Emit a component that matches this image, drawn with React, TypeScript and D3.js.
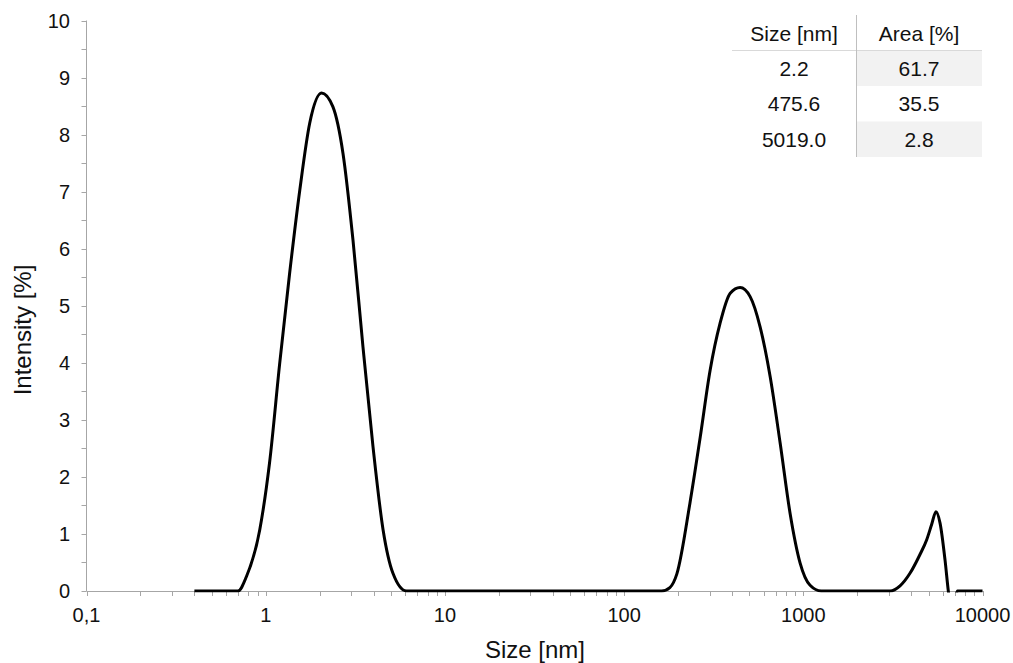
import React, { useEffect, useRef } from 'react';
import * as d3 from 'd3';

// intensity distribution (size in nm, intensity in %)
const sizes = [
  0.4, 0.55, 0.7, 0.78, 0.926, 1.05, 1.197, 1.36, 1.55, 1.76, 2.05, 2.37, 2.7, 3.07, 3.49, 3.97, 4.52, 5.13, 6.1,
  10, 30, 100, 162, 180, 197, 233, 266, 302, 343, 391, 444, 505, 574, 653, 743, 844, 960, 1091, 1259,
  2000, 3048, 3465, 3938, 4478, 4883, 5207, 5500, 5796, 6180, 6445, 6800, 7244, 8500, 10000,
];
const intensities = [
  0, 0, 0, 0.25, 1.07, 2.24, 3.99, 5.57, 7.03, 8.2, 8.73, 8.49, 7.67, 6.15, 4.28, 2.53, 1.07, 0.31, 0,
  0, 0, 0, 0, 0.06, 0.3, 1.54, 2.7, 3.87, 4.69, 5.22, 5.32, 5.16, 4.63, 3.76, 2.59, 1.36, 0.49, 0.1, 0,
  0, 0, 0.09, 0.31, 0.64, 0.9, 1.17, 1.39, 1.19, 0.54, 0, -0.5, 0, 0, 0,
];

const xTickValues = [0.1, 1, 10, 100, 1000, 10000];
const xTickLabels = ['0,1', '1', '10', '100', '1000', '10000'];
const yTickValues = [0, 1, 2, 3, 4, 5, 6, 7, 8, 9, 10];

const tableHeader = ['Size [nm]', 'Area [%]'];
const peakSizes = ['2.2', '475.6', '5019.0'];
const peakAreas = ['61.7', '35.5', '2.8'];

const App = () => {
  const svgRef = useRef<SVGSVGElement>(null);

  useEffect(() => {
    if (!svgRef.current) return;
    const W = 1013;
    const H = 663;
    const left = 86.5, right = 982.5, top = 20.5, bottom = 591;
    const font = 'Liberation Sans, Arial, sans-serif';
    const axisColor = '#a6a6a6';
    const ink = '#111';

    const svg = d3.select(svgRef.current);
    svg.selectAll('*').remove();
    svg.attr('width', W).attr('height', H);

    const x = d3.scaleLog().domain([0.1, 10000]).range([left, right]);
    const y = d3.scaleLinear().domain([0, 10]).range([bottom, top]);

    // y axis
    svg.append('line')
      .attr('x1', left).attr('x2', left).attr('y1', top).attr('y2', bottom)
      .attr('stroke', axisColor).attr('stroke-width', 1);
    const yMinor = d3.range(0, 10.01, 0.5);
    svg.selectAll('.ytick').data(yMinor).enter().append('line')
      .attr('x1', left - 5).attr('x2', left)
      .attr('y1', d => Math.round(y(d)) + 0.5).attr('y2', d => Math.round(y(d)) + 0.5)
      .attr('stroke', axisColor);
    svg.selectAll('.ylab').data(yTickValues).enter().append('text')
      .attr('x', 70).attr('y', d => y(d))
      .attr('dy', '0.35em')
      .attr('text-anchor', 'end')
      .style('font-family', font).style('font-size', '20px').attr('fill', ink)
      .text(d => d);

    // x axis
    svg.append('line')
      .attr('x1', left).attr('x2', right).attr('y1', bottom + 0.5).attr('y2', bottom + 0.5)
      .attr('stroke', axisColor).attr('stroke-width', 1);
    const xMinor: number[] = [];
    [0.1, 1, 10, 100, 1000].forEach(dec => {
      for (let k = 1; k < 10; k++) xMinor.push(dec * k);
    });
    xMinor.push(10000);
    svg.selectAll('.xtick').data(xMinor).enter().append('line')
      .attr('x1', d => Math.round(x(d)) + 0.5).attr('x2', d => Math.round(x(d)) + 0.5)
      .attr('y1', bottom).attr('y2', bottom + 5)
      .attr('stroke', axisColor);
    svg.selectAll('.xlab').data(xTickValues).enter().append('text')
      .attr('x', d => x(d)).attr('y', 622)
      .attr('text-anchor', 'middle')
      .style('font-family', font).style('font-size', '20px').attr('fill', ink)
      .text((d, i) => xTickLabels[i]);

    // axis titles
    svg.append('text')
      .attr('x', 535).attr('y', 658)
      .attr('text-anchor', 'middle')
      .style('font-family', font).style('font-size', '24px').attr('fill', ink)
      .text('Size [nm]');
    svg.append('text')
      .attr('transform', 'translate(31,330) rotate(-90)')
      .attr('text-anchor', 'middle')
      .style('font-family', font).style('font-size', '24px').attr('fill', ink)
      .text('Intensity [%]');

    // curve, clipped at the x axis like the spreadsheet plot
    svg.append('clipPath').attr('id', 'plotClip')
      .append('rect').attr('x', left).attr('y', 0).attr('width', right - left + 2).attr('height', bottom + 1.5);

    const pts = sizes.map((s, i) => [s, intensities[i]] as [number, number]);
    const line = d3.line<[number, number]>()
      .x(d => x(d[0]))
      .y(d => y(d[1]))
      .curve(d3.curveMonotoneX);
    svg.append('path')
      .attr('d', line(pts))
      .attr('clip-path', 'url(#plotClip)')
      .attr('fill', 'none')
      .attr('stroke', '#000')
      .attr('stroke-width', 3)
      .attr('stroke-linejoin', 'round');

    // results table
    const colSplit = 856.5;
    const tLeft = 732, tRight = 982;
    const headerY = 50.5;
    const rowH = 35.5;
    const tbl = svg.append('g');
    peakAreas.forEach((a, i) => {
      if (i % 2 === 0) {
        tbl.append('rect')
          .attr('x', colSplit).attr('y', headerY + i * rowH)
          .attr('width', tRight - colSplit).attr('height', rowH)
          .attr('fill', '#f2f2f2');
      }
    });
    tbl.append('line')
      .attr('x1', tLeft).attr('x2', tRight).attr('y1', headerY).attr('y2', headerY)
      .attr('stroke', '#d9d9d9');
    tbl.append('line')
      .attr('x1', colSplit).attr('x2', colSplit).attr('y1', 15).attr('y2', headerY + 3 * rowH)
      .attr('stroke', '#bfbfbf');
    const colX = [794, 919];
    tableHeader.forEach((h, i) => {
      tbl.append('text')
        .attr('x', colX[i]).attr('y', 34)
        .attr('dy', '0.35em').attr('text-anchor', 'middle')
        .style('font-family', font).style('font-size', '21px').attr('fill', ink)
        .text(h);
    });
    peakSizes.forEach((s, i) => {
      const cy = headerY + rowH * (i + 0.5);
      tbl.append('text')
        .attr('x', colX[0]).attr('y', cy)
        .attr('dy', '0.35em').attr('text-anchor', 'middle')
        .style('font-family', font).style('font-size', '21px').attr('fill', ink)
        .text(s);
      tbl.append('text')
        .attr('x', colX[1]).attr('y', cy)
        .attr('dy', '0.35em').attr('text-anchor', 'middle')
        .style('font-family', font).style('font-size', '21px').attr('fill', ink)
        .text(peakAreas[i]);
    });
  }, []);

  return (
    <svg ref={svgRef} style={{ position: 'absolute', left: 0, top: 0, background: '#fff' }}></svg>
  );
};

export default App;
